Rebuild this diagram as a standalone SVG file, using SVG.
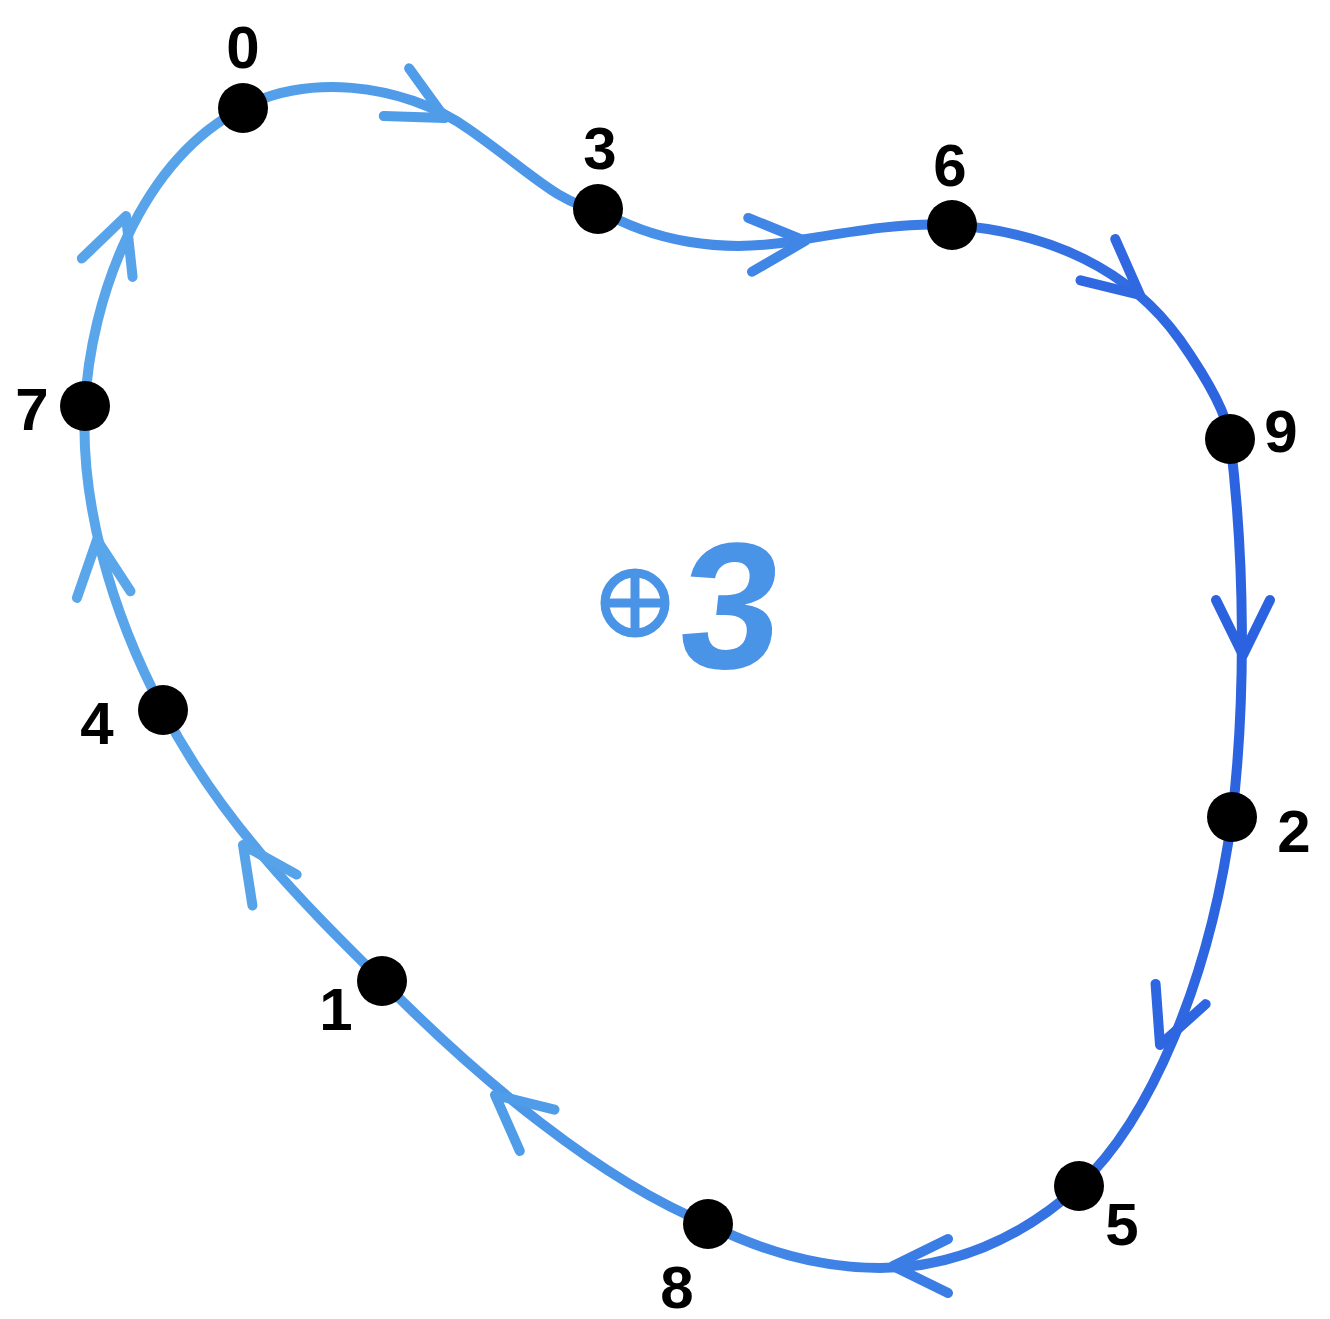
<svg xmlns="http://www.w3.org/2000/svg" width="1330" height="1319" viewBox="0 0 1330 1319">
<defs>
<linearGradient id="g" gradientUnits="userSpaceOnUse" x1="80" y1="0" x2="1250" y2="0">
<stop offset="0" stop-color="#5aa6ea"/>
<stop offset="0.45" stop-color="#4a94e8"/>
<stop offset="1" stop-color="#2b62e0"/>
</linearGradient>
<path id="chev" d="M-55,-27 L0,0 L-55,27"/>
</defs>
<style>
.curve{fill:none;stroke:url(#g);stroke-width:10;stroke-linecap:round;stroke-linejoin:round}
.ch{fill:none;stroke-width:10;stroke-linecap:round;stroke-linejoin:round}
.node{fill:#000}
.lbl{font-family:"Liberation Sans",Arial,sans-serif;font-weight:bold;font-size:60px;fill:#000;text-anchor:middle}
</style>
<rect width="1330" height="1319" fill="#fff"/>
<g id="connectors">
<path class="curve" d="M243,108 C300,75 400,80 470,130 C530,172 560,205 598,209 C650,240 720,255 800,240 C860,230 910,222 952,225 C1050,232 1130,270 1180,340 C1215,390 1228,420 1230,439 C1245,560 1246,700 1232,817 C1210,980 1150,1120 1079,1186 C1020,1240 950,1268 880,1268 C810,1268 750,1245 708,1224 C600,1180 480,1080 382,981 C300,900 220,820 163,710 C110,610 80,500 85,406 C90,300 140,160 243,108 Z"/>
<g class="ch">
<use href="#chev" transform="translate(445,118) rotate(28)" stroke="#4f9ce8"/>
<use href="#chev" transform="translate(805,241) rotate(-4)" stroke="#3f86e6"/>
<use href="#chev" transform="translate(1140,295) rotate(40)" stroke="#3068e2"/>
<use href="#chev" transform="translate(1243,655) rotate(90)" stroke="#2b62e0"/>
<use href="#chev" transform="translate(1160,1045) rotate(112)" stroke="#2e66e1"/>
<use href="#chev" transform="translate(893,1266) rotate(180)" stroke="#3a7ee5"/>
<use href="#chev" transform="translate(495,1095) rotate(-140)" stroke="#4f9ce8"/>
<use href="#chev" transform="translate(243,845) rotate(-125)" stroke="#57a3ea"/>
<use href="#chev" transform="translate(97,540) rotate(-97)" stroke="#5aa6ea"/>
<use href="#chev" transform="translate(126,216) rotate(-70)" stroke="#58a4ea"/>
</g>
</g>
<g id="n0"><circle class="node" cx="243" cy="108" r="25"/><text class="lbl" x="243" y="68">0</text></g>
<g id="n3"><circle class="node" cx="598" cy="209" r="25"/><text class="lbl" x="600" y="169">3</text></g>
<g id="n6"><circle class="node" cx="952" cy="225" r="25"/><text class="lbl" x="950" y="186">6</text></g>
<g id="n9"><circle class="node" cx="1230" cy="439" r="25"/><text class="lbl" x="1281" y="452">9</text></g>
<g id="n2"><circle class="node" cx="1232" cy="817" r="25"/><text class="lbl" x="1294" y="852">2</text></g>
<g id="n5"><circle class="node" cx="1079" cy="1186" r="25"/><text class="lbl" x="1122" y="1245">5</text></g>
<g id="n8"><circle class="node" cx="708" cy="1224" r="25"/><text class="lbl" x="677" y="1308">8</text></g>
<g id="n1"><circle class="node" cx="382" cy="981" r="25"/><text class="lbl" x="336" y="1030">1</text></g>
<g id="n4"><circle class="node" cx="163" cy="710" r="25"/><text class="lbl" x="97" y="744">4</text></g>
<g id="n7"><circle class="node" cx="85" cy="406" r="25"/><text class="lbl" x="32" y="430">7</text></g>
<g id="center">
<circle cx="635" cy="603" r="30" fill="none" stroke="#4a94e8" stroke-width="9"/>
<path d="M635,573 V633 M605,603 H665" stroke="#4a94e8" stroke-width="9"/>
<text x="730" y="668" font-family="Liberation Sans,Arial,sans-serif" font-weight="bold" font-size="180" fill="#4a94e8" text-anchor="middle" transform="skewX(-6) translate(65,0)">3</text>
</g>
</svg>
